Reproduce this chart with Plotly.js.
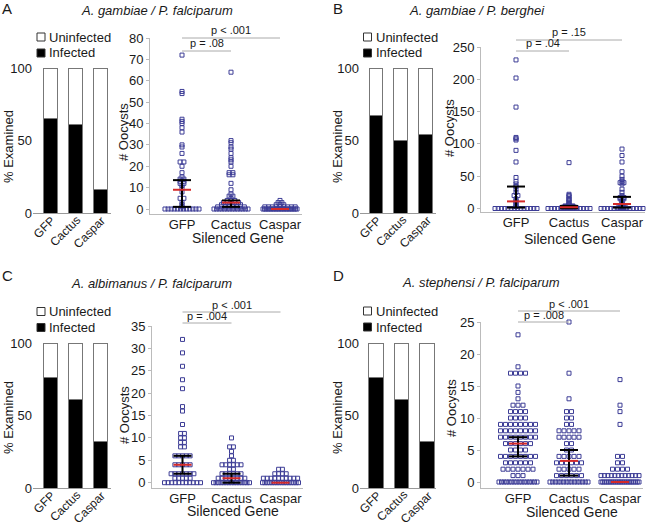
<!DOCTYPE html>
<html>
<head>
<meta charset="utf-8">
<script src="https://cdn.plot.ly/plotly-3.0.1.min.js"></script>
<style>body{margin:0;background:#fff} #chart{width:661px;height:525px}</style>
</head>
<body>
<div id="chart"></div>
<script>
const W = 661, H = 525;

// Categories and labels
const genes = ['GFP', 'Cactus', 'Caspar'];
const seriesNames = ['Uninfected', 'Infected'];
const panelLetters = ['A', 'B', 'C', 'D'];
const panelTitles = ['A. gambiae / P. falciparum', 'A. gambiae / P. berghei',
                     'A. albimanus / P. falciparum', 'A. stephensi / P. falciparum'];
const barTicks = [0, 50, 100];
const ticksA = [0, 10, 20, 30, 40, 50, 60, 70, 80];
const ticksB = [0, 50, 100, 150, 200, 250];
const ticksC = [0, 5, 10, 15, 20, 25, 30, 35];
const ticksD = [0, 5, 10, 15, 20, 25];

// % examined (stacked bars)
const infectedA = [65, 61, 16];
const uninfectedA = [35, 39, 84];
const infectedB = [67, 50, 54];
const uninfectedB = [33, 50, 46];
const infectedC = [76, 61, 32];
const uninfectedC = [24, 39, 68];
const infectedD = [76, 61, 32];
const uninfectedD = [24, 39, 68];

// Oocysts per mosquito
const aGfp = [0,0,0,0,0,0,0,0,0,0,0,0, 1,2,3,5,5,8,10,11,12,12,13,13,14,14,15,17,20,22,22,26,29,30,36,38,40,41,42,54,55,72];
const aCactus = [0,0,0,0,0,0,0,0,0,0,0,0,0,0, 1,1,1,1,1,1,1,1, 2,2,2,2,2,2, 3,3,3,3,3, 4,4,4, 5,6,6,7,9,12,16,16,17,17,20,22,23,24,26,28,29,31,32,64];
const aCaspar = [0,0,0,0,0,0,0,0,0,0,0,0,0,0,0,0,0,0,0,0,0,0, 1,1,1,1,1,1,1,1,1, 2,2,2, 3,3, 4];

const bGfp = [0,0,0,0,0,0,0,0,0,0,0,0,0,0, 3,5,7,10,12,15,20,20,25,30,34,38,42,48,72,90,106,108,110,157,202,230];
const bCactus = [0,0,0,0,0,0,0,0,0,0,0,0,0,0, 1,1,1,1,1, 2,2,2,2, 3,3,3, 4,4,4, 5,6,8,10,12,14,15,18,20,22,71];
const bCaspar = [0,0,0,0,0,0,0,0,0,0,0,0,0,0, 1,1,1, 2,2, 3,5,6,8,10,12,15,15,16,17,17,20,25,30,38,40,40,42,45,50,57,72,82,92];

const cGfp = [0,0,0,0,0,0,0,0,0,0,0, 1,1,1,1,1, 2,2,2,2,2,2,2, 4,4,4,4,4, 6,6,6,6,6, 8,8,9,9,10,10,11,11, 13,16,17,21,23,26,29,32];
const cCactus = [0,0,0,0,0,0,0,0,0,0,0,0,0,0,0, 1,1,1,1,1,1,1,1, 2,2,2,2,2,2, 3,3, 4,4,4,4,4,4, 5,5, 6,7,8,8,10];
const cCaspar = [0,0,0,0,0,0,0,0,0,0,0,0,0,0,0,0, 1,1,1,1,1,1,1,1,1,1, 2,2,2,2, 3,3];

const dGfp = [0,0,0,0,0,0,0,0,0,0,0,0,0,0,0,0, 1,1,1, 2,2,2,2,2,2,2, 3,3,3,3,3,3, 4,4,4,4,4,4,4,4, 5,5,5,5,
              6,6,6,6,6,6, 7,7,7,7,7,7,7,7, 8,8,8,8,8,8,8,8, 9,9,9,9,9,9,9,9, 10,10,10,10, 11,11,11,11,
              12,12,12, 13,14,15, 17,17,17,17, 18,23];
const dCactus = [0,0,0,0,0,0,0,0,0,0,0,0,0,0,0, 1,1,1,1,1,1, 2,2,2,2,2, 3,3,3,3,3,3, 4,4,4,4,4, 5,5, 6,6,
                 7,7,7,7,7, 8,8,8,8,8, 9,9, 10,10, 11,11, 13,17,25];
const dCaspar = [0,0,0,0,0,0,0,0,0,0,0,0,0,0,0,0,0,0,0,0,0,0, 1,1,1,1,1,1,1,1,1,1,1,1, 2,2,2,2, 3,3, 4,4, 9,11,12,16];

// Median and interquartile range, per gene
const medA = [9, 3, 0],   q1A = [1, 1, 0],   q3A = [13.5, 4, 0];
const medB = [11, 2, 7],  q1B = [1.5, 0.5, 1.5], q3B = [34, 4, 18];
const medC = [4, 1, 0],   q1C = [2, 0, 0],   q3C = [6, 2, 0];
const medD = [6, 3.3, 0], q1D = [4, 1, 0],   q3D = [7, 5, 0];

// Significance labels: GFP vs Cactus, GFP vs Caspar
const pShort = ['p = .08', 'p = .04', 'p = .004', 'p = .008'];
const pLong = ['p < .001', 'p = .15', 'p < .001', 'p < .001'];

const groups = [[aGfp, aCactus, aCaspar], [bGfp, bCactus, bCaspar],
                [cGfp, cCactus, cCaspar], [dGfp, dCactus, dCaspar]];
const infected = [infectedA, infectedB, infectedC, infectedD];
const uninfected = [uninfectedA, uninfectedB, uninfectedC, uninfectedD];
const medians = [medA, medB, medC, medD];
const q1s = [q1A, q1B, q1C, q1D];
const q3s = [q3A, q3B, q3C, q3D];
const dotTicks = [ticksA, ticksB, ticksC, ticksD];

// Pixel geometry of each panel
const geo = [
  { bar: {c0: 50, sp: 25, x0: 33, x1: 111, top: 68, bot: 213},
    dot: {c0: 182, sp: 49, x0: 150, x1: 302, zero: 209, top: 38, bot: 214, gap: 3.8, maxW: 34},
    title: [157, 11], letter: [7, 8], legend: [41, 37], yBar: [8, 147], yDot: [123, 132], xTitle: [238, 238],
    pLong: 38, pShort: 51 },
  { bar: {c0: 376, sp: 24.8, x0: 360, x1: 436, top: 68, bot: 213},
    dot: {c0: 516, sp: 53, x0: 481, x1: 645, zero: 208.5, top: 47, bot: 212, gap: 3.8, maxW: 42},
    title: [477, 11], letter: [338, 8], legend: [367.5, 37], yBar: [337, 147], yDot: [449, 128], xTitle: [570, 239],
    pLong: 40, pShort: 51 },
  { bar: {c0: 50, sp: 25, x0: 33, x1: 111, top: 343, bot: 488},
    dot: {c0: 182.5, sp: 49, x0: 152, x1: 303, zero: 482.7, top: 326, bot: 488, gap: 3.8, maxW: 36},
    title: [151, 283], letter: [7, 275], legend: [41, 311.5], yBar: [8, 418], yDot: [124, 415], xTitle: [233, 511],
    pLong: 312, pShort: 323 },
  { bar: {c0: 376, sp: 25.5, x0: 360, x1: 436, top: 343, bot: 488},
    dot: {c0: 518, sp: 51, x0: 481, x1: 643, zero: 482, top: 322, bot: 488, gap: 5, maxW: 38},
    title: [481, 282], letter: [338, 275], legend: [367.5, 311], yBar: [337, 418], yDot: [451, 408], xTitle: [572, 512],
    pLong: 311, pShort: 322 }
];

const FONT = 'Liberation Sans, Arial, sans-serif';
const dotColor = '#3d3d96';
const px = x => x / W;
const py = y => 1 - y / H;

// Equal values sit side by side in a centred row, squeezed if the row gets too wide
function rowOffsets(values, gapPx, maxW) {
  const counts = {}, seen = {};
  values.forEach(v => { counts[v] = (counts[v] || 0) + 1; });
  return values.map(v => {
    const n = counts[v];
    const i = seen[v] = (seen[v] === undefined ? 0 : seen[v] + 1);
    const g = n > 1 ? Math.min(gapPx, maxW / (n - 1)) : 0;
    return (i - (n - 1) / 2) * g;
  });
}

const traces = [];
const annotations = [];
const shapes = [];
const layout = {
  width: W, height: H, autosize: false,
  margin: {l: 0, r: 0, t: 0, b: 0},
  paper_bgcolor: '#fff', plot_bgcolor: '#fff',
  showlegend: false, barmode: 'stack',
  font: {family: FONT, size: 13, color: '#1a1a1a'}
};

function text(x, y, t, opts) {
  annotations.push(Object.assign({x: px(x), y: py(y), xref: 'paper', yref: 'paper', text: t,
    showarrow: false, xanchor: 'center', yanchor: 'middle', borderpad: 0}, opts || {}));
}

geo.forEach((g, p) => {
  const xb = 'x' + (2 * p + 1), yb = 'y' + (2 * p + 1);
  const xd = 'x' + (2 * p + 2), yd = 'y' + (2 * p + 2);
  const b = g.bar, d = g.dot;

  // stacked % bars
  traces.push({type: 'bar', x: [0, 1, 2], y: infected[p], name: seriesNames[1], xaxis: xb, yaxis: yb,
    width: 0.56, marker: {color: '#000', line: {color: '#777', width: 1}}, hoverinfo: 'skip'});
  traces.push({type: 'bar', x: [0, 1, 2], y: uninfected[p], name: seriesNames[0], xaxis: xb, yaxis: yb,
    width: 0.56, marker: {color: '#fff', line: {color: '#777', width: 1}}, hoverinfo: 'skip'});

  layout['xaxis' + (2 * p + 1)] = {
    domain: [px(b.x0), px(b.x1)], range: [(b.x0 - b.c0) / b.sp, (b.x1 - b.c0) / b.sp], anchor: yb,
    showticklabels: false, ticks: '',
    showline: true, linecolor: '#999', linewidth: 1, showgrid: false, zeroline: false, fixedrange: true
  };
  layout['yaxis' + (2 * p + 1)] = {
    domain: [py(b.bot), py(b.top)], range: [0, 100], anchor: xb, tickvals: barTicks, ticks: '',
    showline: false, showgrid: false, zeroline: false, fixedrange: true
  };
  // slanted gene names under the bars
  genes.forEach((name, i) => {
    text(b.c0 + i * b.sp + 10, b.bot - 1, name, {textangle: -45, xanchor: 'right', yanchor: 'top', font: {size: 12}});
  });

  // oocyst dots
  groups[p].forEach((vals, i) => {
    const off = rowOffsets(vals, d.gap, d.maxW);
    traces.push({type: 'scatter', mode: 'markers', x: off.map(o => i + o / d.sp), y: vals,
      xaxis: xd, yaxis: yd, cliponaxis: false, hoverinfo: 'skip',
      marker: {symbol: 'square-open', size: 4, color: dotColor, line: {width: 1, color: dotColor}}});
  });

  // median (red) with interquartile range (black)
  const hw = 9 / d.sp;
  const bx = [], by = [], rx = [], ry = [];
  for (let i = 0; i < 3; i++) {
    const lo = q1s[p][i], hi = q3s[p][i], m = medians[p][i];
    if (hi > lo) {
      bx.push(i - hw, i + hw, null, i, i, null, i - hw, i + hw, null);
      by.push(hi, hi, null, hi, lo, null, lo, lo, null);
    }
    rx.push(i - hw, i + hw, null);
    ry.push(m, m, null);
  }
  traces.push({type: 'scatter', mode: 'lines', x: bx, y: by, xaxis: xd, yaxis: yd, cliponaxis: false,
    line: {color: '#000', width: 2}, hoverinfo: 'skip', connectgaps: false});
  traces.push({type: 'scatter', mode: 'lines', x: rx, y: ry, xaxis: xd, yaxis: yd, cliponaxis: false,
    line: {color: '#d42a2a', width: 2}, hoverinfo: 'skip', connectgaps: false});

  const ticks = dotTicks[p];
  const yMax = ticks[ticks.length - 1];
  const k = (d.zero - d.top) / yMax;
  layout['xaxis' + (2 * p + 2)] = {
    domain: [px(d.x0), px(d.x1)], range: [(d.x0 - d.c0) / d.sp, (d.x1 - d.c0) / d.sp], anchor: yd,
    tickvals: [0, 1, 2], ticktext: genes, ticks: '', ticklabelstandoff: -2,
    showline: true, linecolor: '#bbb', linewidth: 1, showgrid: false, zeroline: false, fixedrange: true
  };
  layout['yaxis' + (2 * p + 2)] = {
    domain: [py(d.bot), py(d.top)], range: [-(d.bot - d.zero) / k, yMax], anchor: xd,
    tickvals: ticks, ticks: 'outside', ticklen: 3, tickcolor: '#bbb',
    showline: true, linecolor: '#bbb', linewidth: 1, showgrid: false, zeroline: false, fixedrange: true
  };

  // significance brackets
  const xs = d.c0, xm = d.c0 + d.sp, xe = d.c0 + 2 * d.sp;
  shapes.push({type: 'line', xref: 'paper', yref: 'paper', x0: px(xs), x1: px(xe), y0: py(g.pLong), y1: py(g.pLong),
    line: {color: '#aaa', width: 1}});
  shapes.push({type: 'line', xref: 'paper', yref: 'paper', x0: px(xs), x1: px(xm), y0: py(g.pShort), y1: py(g.pShort),
    line: {color: '#aaa', width: 1}});
  text((xs + xe) / 2, g.pLong - 0.5, pLong[p], {yanchor: 'bottom', font: {size: 11}});
  text((xs + xm) / 2, g.pShort - 0.5, pShort[p], {yanchor: 'bottom', font: {size: 11}});

  // titles
  text(g.title[0], g.title[1], '<i>' + panelTitles[p] + '</i>', {font: {size: 13}});
  text(g.letter[0], g.letter[1], panelLetters[p], {font: {size: 15}});
  text(g.yBar[0], g.yBar[1], '% Examined', {textangle: -90, font: {size: 13}});
  text(g.yDot[0], g.yDot[1], '# Oocysts', {textangle: -90, font: {size: 13}});
  text(g.xTitle[0], g.xTitle[1], 'Silenced Gene', {font: {size: 14}});

  // legend
  const [lx, ly] = g.legend;
  [[seriesNames[0], '#fff', ly], [seriesNames[1], '#000', ly + 16]].forEach(([name, fill, yy]) => {
    shapes.push({type: 'rect', xref: 'paper', yref: 'paper', x0: px(lx - 4), x1: px(lx + 4), y0: py(yy + 4), y1: py(yy - 4),
      fillcolor: fill, line: {color: '#333', width: 1}});
    text(lx + 7, yy, name, {xanchor: 'left', font: {size: 13}});
  });
});

layout.annotations = annotations;
layout.shapes = shapes;

Plotly.newPlot('chart', traces, layout, {displayModeBar: false, staticPlot: true});
</script>
</body>
</html>
